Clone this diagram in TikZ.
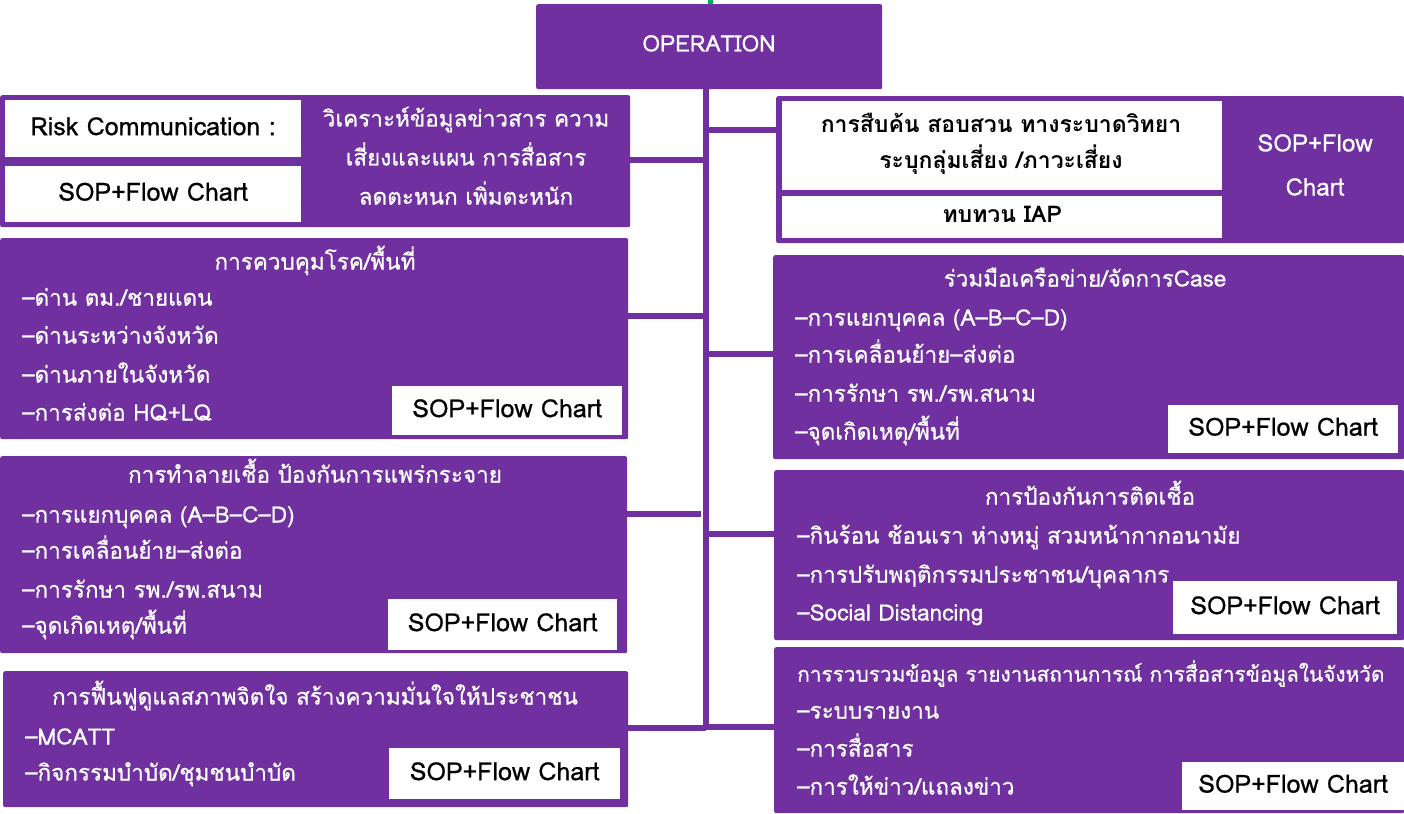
\documentclass[tikz,border=0pt]{standalone}
\usepackage{fontspec}
\setmainfont[Script=Thai]{Loma}
\newfontfamily\medfont[Script=Thai, FakeBold=0.7]{Loma}
\definecolor{opurple}{HTML}{7030A0}
\definecolor{ogreen}{HTML}{00B050}
\begin{document}
\begin{tikzpicture}[x=1pt,y=-1pt,
  panel/.style={fill=opurple, draw=none, rounded corners=2pt, inner sep=0pt, anchor=north west},
  wbox/.style={fill=white, draw=none, inner sep=0pt, anchor=north west},
  link/.style={draw=opurple, line width=6pt},
  ttl/.style={text=white, font=\medfont\fontsize{22.5}{26}\selectfont, inner sep=0pt, text height=16pt, text depth=5pt},
  item/.style={ttl, anchor=west},
  btxt/.style={text=black, font=\bfseries\fontsize{23}{27}\selectfont, inner sep=0pt, text height=16pt, text depth=5pt},
  sop/.style={text=black, font=\medfont\fontsize{25}{29}\selectfont, inner sep=0pt, text height=18pt, text depth=5pt},
  wtxt/.style={text=white, font=\medfont\fontsize{24}{28}\selectfont, inner sep=0pt, text height=18pt, text depth=5pt}]
\useasboundingbox (0,0) rectangle (1404,813);

% top box
\node[panel, minimum width=346pt, minimum height=85pt] (op) at (536,4) {};
\node[wtxt, font=\medfont\fontsize{22.7}{27}\selectfont] at (709,45) {OPERATION};
\coordinate (feed) at (710.5,0);
\draw[draw=ogreen, line width=5pt] (feed) -- (feed |- op.north);

% trunk and its junctions
\coordinate (tb) at (706,730);
\coordinate (j1L) at (706,160);
\coordinate (j1R) at (706,130.5);
\coordinate (j2L) at (706,316);
\coordinate (j2R) at (706,354);
\coordinate (j3L) at (701,514);
\coordinate (j3R) at (706,533.5);
\coordinate (j4L) at (706,728);
\coordinate (j4R) at (706,727);

% panels
\node[panel, minimum width=630pt, minimum height=132pt] (p1L) at (0,95) {};
\node[panel, minimum width=628pt, minimum height=147pt] (p1R) at (776,96) {};
\node[panel, minimum width=628pt, minimum height=201pt] (p2L) at (0,238) {};
\node[panel, minimum width=631pt, minimum height=204pt] (p2R) at (773,255) {};
\node[panel, minimum width=627pt, minimum height=197pt] (p3L) at (0,456) {};
\node[panel, minimum width=630pt, minimum height=170pt] (p3R) at (774,470) {};
\node[panel, minimum width=625pt, minimum height=136pt] (p4L) at (3,671) {};
\node[panel, minimum width=630pt, minimum height=166pt] (p4R) at (774,647) {};

% connectors
\draw[link] (op.south -| tb) -- (tb);
\draw[link] (p1L.east |- j1L) -- (j1L);
\draw[link] (j1R) -- (p1R.west |- j1R);
\draw[link] (p2L.east |- j2L) -- (j2L);
\draw[link] (j2R) -- (p2R.west |- j2R);
\draw[link] (p3L.east |- j3L) -- (j3L);
\draw[link] (j3R) -- (p3R.west |- j3R);
\draw[link] (p4L.east |- j4L) -- (j4L);
\draw[link] (j4R) -- (p4R.west |- j4R);

% panel 1 left
\node[wbox, minimum width=296pt, minimum height=57pt] (rc) at (5,100) {};
\node[wbox, minimum width=296pt, minimum height=56pt] (rs) at (5,166) {};
\node[sop] at (rc.center) {Risk Communication :};
\node[sop] at (rs.center) {SOP+Flow Chart};
\node[ttl] at (466,121) {วิเคราะห์ข้อมูลข่าวสาร ความ};
\node[ttl] at (466,160) {เสี่ยงและแผน การสื่อสาร};
\node[ttl] at (466,199) {ลดตะหนก เพิ่มตะหนัก};

% panel 1 right
\node[wbox, minimum width=440pt, minimum height=89pt] (inv) at (782,101) {};
\node[wbox, minimum width=440pt, minimum height=42pt] (iap) at (782,196) {};
\node[btxt] at (1001,127) {การสืบค้น สอบสวน ทางระบาดวิทยา};
\node[btxt] at (1001,163) {ระบุกลุ่มเสี่ยง /ภาวะเสี่ยง};
\node[btxt] at (iap.center) {ทบทวน IAP};
\node[wtxt] at (1315,145) {SOP+Flow};
\node[wtxt] at (1315,189) {Chart};

% panel 2 left
\node[ttl] at (315,264) {การควบคุมโรค/พื้นที่};
\node[item] at (22,300) {–ด่าน ตม./ชายแดน};
\node[item] at (22,338) {–ด่านระหว่างจังหวัด};
\node[item] at (22,377) {–ด่านภายในจังหวัด};
\node[item] at (22,415) {–การส่งต่อ HQ+LQ};
\node[wbox, minimum width=230pt, minimum height=49pt] (s2L) at (392,386) {};
\node[sop] at (s2L.center) {SOP+Flow Chart};

% panel 2 right
\node[ttl] at (1085,281) {ร่วมมือเครือข่าย/จัดการCase};
\node[item] at (795,320) {–การแยกบุคคล (A–B–C–D)};
\node[item] at (795,357) {–การเคลื่อนย้าย–ส่งต่อ};
\node[item] at (795,396) {–การรักษา รพ./รพ.สนาม};
\node[item] at (795,434) {–จุดเกิดเหตุ/พื้นที่};
\node[wbox, minimum width=230pt, minimum height=48pt] (s2R) at (1168,405) {};
\node[sop] at (s2R.center) {SOP+Flow Chart};

% panel 3 left
\node[ttl] at (315,477) {การทำลายเชื้อ ป้องกันการแพร่กระจาย};
\node[item] at (22,517) {–การแยกบุคคล (A–B–C–D)};
\node[item] at (22,553) {–การเคลื่อนย้าย–ส่งต่อ};
\node[item] at (22,592) {–การรักษา รพ./รพ.สนาม};
\node[item] at (22,628) {–จุดเกิดเหตุ/พื้นที่};
\node[wbox, minimum width=229pt, minimum height=51pt] (s3L) at (388,599) {};
\node[sop] at (s3L.center) {SOP+Flow Chart};

% panel 3 right
\node[ttl] at (1090,499) {การป้องกันการติดเชื้อ};
\node[item] at (797,538) {–กินร้อน ช้อนเรา ห่างหมู่ สวมหน้ากากอนามัย};
\node[item] at (797,577) {–การปรับพฤติกรรมประชาชน/บุคลากร};
\node[item] at (797,615) {–Social Distancing};
\node[wbox, minimum width=224pt, minimum height=53pt] (s3R) at (1173,581) {};
\node[sop] at (s3R.center) {SOP+Flow Chart};

% panel 4 left
\node[ttl] at (315,699) {การฟื้นฟูดูแลสภาพจิตใจ สร้างความมั่นใจให้ประชาชน};
\node[item] at (25,739) {–MCATT};
\node[item] at (25,775) {–กิจกรรมบำบัด/ชุมชนบำบัด};
\node[wbox, minimum width=231pt, minimum height=51pt] (s4L) at (389,748) {};
\node[sop] at (s4L.center) {SOP+Flow Chart};

% panel 4 right
\node[item, font=\medfont\fontsize{20.8}{25}\selectfont] at (797,676) {การรวบรวมข้อมูล รายงานสถานการณ์ การสื่อสารข้อมูลในจังหวัด};
\node[item] at (797,713) {–ระบบรายงาน};
\node[item] at (797,751) {–การสื่อสาร};
\node[item] at (797,789) {–การให้ข่าว/แถลงข่าว};
\node[wbox, minimum width=222pt, minimum height=48pt] (s4R) at (1182,762) {};
\node[sop] at (s4R.center) {SOP+Flow Chart};
\end{tikzpicture}
\end{document}
